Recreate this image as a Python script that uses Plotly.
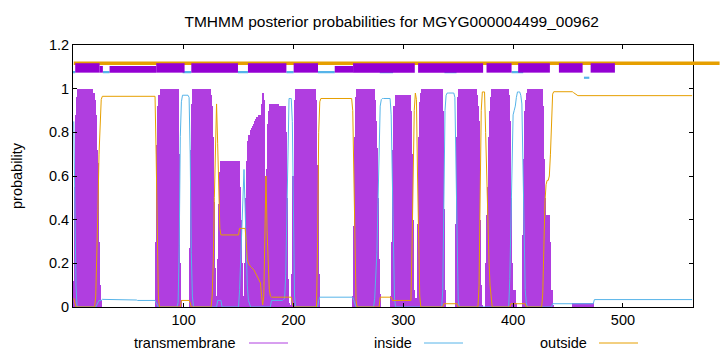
import plotly.graph_objects as go

title_text = "TMHMM posterior probabilities for MGYG000004499_00962"

# ---- posterior probabilities, run-length encoded (value, run length), residue 0..563 ----
tm_val = [0.12, 0.55, 0.88, 0.96, 1.0, 0.98, 0.95, 0.88, 0.72, 0.66, 0.3, 0.1, 0.03, 0,
          0.3, 0.74, 0.92, 0.97, 1.0, 0.7, 0.2, 0.03, 0,
          0.27, 0.72, 0.93, 1.0, 0.97, 0.92, 0.78, 0.48, 0.18, 0.05, 0.22, 0.47, 0.62, 0.67,
          0.55, 0.4, 0.2, 0.05, 0.01, 0.2, 0.5, 0.67, 0.76, 0.79, 0.81, 0.82, 0.83, 0.84, 0.85, 0.86,
          0.87, 0.88, 0.93, 0.98, 0.95, 0.6, 0.4, 0.63, 0.84, 0.9, 0.93, 0.92, 0.8, 0.5, 0.13, 0.02, 0.01,
          0.15, 0.6, 0.95, 1.0, 0.95, 0.65, 0.15, 0,
          0.05, 0.37, 0.78, 0.96, 1.0, 0.95, 0.85, 0.73, 0.5, 0.22, 0.06, 0,
          0.05, 0.3, 0.72, 0.92, 0.97, 0.9, 0.7, 0.4, 0.08, 0.01,
          0.04, 0.38, 0.78, 0.94, 0.98, 1.0, 0.9, 0.45, 0.08, 0,
          0.38, 0.78, 0.96, 1.0, 0.97, 0.92, 0.85, 0.4, 0.1, 0.01, 0,
          0.2, 0.42, 0.55, 0.78, 0.9, 0.96, 1.0, 0.97, 0.85, 0.5, 0.2, 0.08, 0.02, 0,
          0.33, 0.68, 0.9, 0.95, 0.98, 1.0, 0.92, 0.68, 0.5, 0.42, 0.3, 0.08, 0.01, 0, 0.018, 0]
tm_len = [1, 1, 1, 1, 14, 1, 1, 1, 1, 1, 1, 1, 1, 49,
          1, 1, 1, 1, 17, 1, 1, 1, 7,
          1, 1, 1, 16, 1, 1, 1, 1, 1, 1, 1, 1, 1, 17,
          1, 1, 1, 1, 1, 1, 1, 1, 1, 1, 1, 1, 1, 1, 1, 1,
          2, 2, 1, 1, 1, 1, 1, 1, 1, 1, 8, 6, 1, 1, 1, 1, 2,
          1, 1, 1, 19, 1, 1, 1, 30,
          1, 1, 1, 1, 16, 1, 1, 1, 1, 1, 1, 9,
          1, 1, 1, 1, 14, 1, 1, 1, 1, 1,
          1, 1, 1, 1, 1, 19, 1, 1, 1, 9,
          1, 1, 1, 16, 1, 1, 1, 1, 1, 1, 2,
          1, 1, 1, 1, 1, 1, 15, 1, 1, 1, 1, 3, 1, 5,
          1, 1, 1, 1, 1, 13, 1, 1, 1, 4, 1, 1, 1, 18, 19, 90]

in_val = [0.85, 0.4, 0.1, 0, 0.01, 0.02, 0.03, 0.035, 0.032, 0.03, 0.02, 0.005, 0,
          0.02, 0.28, 0.78, 0.94, 0.97, 0.96, 0.7, 0.25, 0.05, 0, 0.03, 0,
          0.08, 0.22, 0.42, 0.58, 0.63, 0.45, 0.2, 0.1, 0.03, 0.01, 0,
          0.03, 0.035, 0.04, 0.15, 0.45, 0.83, 0.955, 0.85, 0.4, 0.05, 0,
          0.03, 0.045, 0.03, 0.01, 0,
          0.04, 0.13, 0.25, 0.48, 0.76, 0.92, 0.95, 0.955, 0.88, 0.6, 0.22, 0.04, 0,
          0.08, 0.5, 0.9, 0.97, 0.98, 0.96, 0.6, 0.2, 0.03, 0,
          0.13, 0.45, 0.75, 0.88, 0.9, 0.92, 0.96, 0.985, 0.97, 0.93, 0.65, 0.3, 0.08, 0.02, 0,
          0.015, 0.034]
in_len = [1, 1, 1, 18, 1, 1, 3, 15, 17, 17, 1, 1, 18,
          1, 1, 1, 1, 6, 1, 1, 1, 1, 22, 4, 16,
          1, 1, 1, 1, 1, 1, 1, 1, 1, 1, 19,
          11, 1, 1, 1, 1, 1, 3, 1, 1, 1, 21,
          1, 31, 1, 1, 17,
          1, 1, 1, 1, 1, 1, 1, 8, 1, 1, 1, 1, 43,
          1, 1, 1, 1, 7, 1, 1, 1, 1, 46,
          1, 1, 1, 1, 1, 1, 1, 3, 1, 1, 1, 1, 1, 1, 23,
          38, 90]

out_val = [0.04, 0.02, 0, 0.05, 0.2, 0.45, 0.7, 0.87, 0.95, 0.965, 0.7, 0.25, 0.05, 0, 0.03, 0.02, 0,
           0.05, 0.2, 0.5, 0.8, 0.93, 0.75, 0.5, 0.36, 0.33, 0.36,
           0.3, 0.22, 0.2, 0.19, 0.185, 0.18, 0.175, 0.17, 0.16, 0.15, 0.14, 0.13, 0.12, 0.11,
           0.05, 0.01, 0.05, 0.4, 0.6, 0.35, 0.15, 0.08, 0.05, 0.045, 0.02, 0,
           0.3, 0.8, 0.94, 0.955, 0.9, 0.6, 0.2, 0.03, 0, 0.045, 0.03,
           0.28, 0.58, 0.9, 0.98, 0.95, 0.6, 0.2, 0.05, 0, 0.015, 0,
           0.1, 0.6, 0.9, 0.985, 0.8, 0.58, 0.45, 0.22, 0.1, 0.04, 0, 0.015, 0,
           0.06, 0.3, 0.48, 0.56, 0.58, 0.6, 0.7, 0.9, 0.975, 0.986, 0.982, 0.978, 0.974, 0.97, 0.968]
out_len = [1, 1, 18, 1, 1, 1, 1, 1, 1, 49, 1, 1, 1, 20, 8, 1, 19,
           1, 1, 1, 1, 1, 1, 1, 1, 17, 6,
           1, 1, 1, 1, 1, 1, 1, 1, 1, 1, 1, 1, 1, 1,
           1, 1, 1, 1, 1, 1, 1, 1, 1, 19, 1, 22,
           1, 1, 1, 29, 1, 1, 1, 1, 21, 11, 18,
           1, 1, 1, 1, 1, 1, 1, 1, 21, 13, 19,
           1, 1, 1, 3, 1, 1, 1, 1, 1, 1, 17, 14, 15,
           1, 1, 1, 1, 2, 1, 1, 1, 1, 18, 1, 1, 1, 1, 105]

# ---- predicted topology band (residue start / end) ----
topo_out_start = [0]
topo_out_end = [588]
topo_in_start = [-0.7, 26.5, 99.1, 149.5, 193.6, 222.4, 278.6, 337.5, 398.6]
topo_in_end = [1.3, 32.6, 107, 158.6, 200.2, 237.6, 290.7, 348.5, 409.2]
topo_in2_start = [464.5]
topo_in2_end = [469.4]
topo_tm_start = [1.3, 75.1, 107, 158.6, 200.2, 254.3, 313.5, 375.8, 404.6, 441.7, 470.6]
topo_tm_end = [23.5, 100.9, 149.5, 193.6, 222.4, 310.5, 372.7, 398.6, 433.5, 463.3, 492.7]
topo_tmlow_start = [23.5, 32.6, 237.6]
topo_tmlow_end = [26.5, 75.1, 254.3]

x_ticks = [100, 200, 300, 400, 500]
legend_names = ["transmembrane", "inside", "outside"]


def expand(vals, lens):
    out = []
    for v, n in zip(vals, lens):
        out.extend([v] * n)
    return out


tm = expand(tm_val, tm_len)
inside = expand(in_val, in_len)
outside = expand(out_val, out_len)

PURPLE_BAR = "#b03ee0"
PURPLE = "#9400d3"
BLUE = "#56b4e9"
ORANGE = "#e69f00"
XR = [-0.7, 563.8]

fig = go.Figure()
fig.add_trace(go.Bar(x=list(range(len(tm))), y=tm, width=0.94,
                     marker=dict(color=PURPLE_BAR, line=dict(width=0)), name=legend_names[0]))
fig.add_trace(go.Scatter(x=list(range(len(inside))), y=inside, mode="lines",
                         line=dict(color=BLUE, width=1), name=legend_names[1]))
fig.add_trace(go.Scatter(x=list(range(len(outside))), y=outside, mode="lines",
                         line=dict(color=ORANGE, width=1), name=legend_names[2]))

shapes = []
span = XR[1] - XR[0]
for s, e in zip(topo_out_start, topo_out_end):
    shapes.append(dict(type="rect", xref="paper", yref="y",
                       x0=(s - XR[0]) / span, x1=(e - XR[0]) / span,
                       y0=1.1087, y1=1.1239, fillcolor=ORANGE, line=dict(width=0), layer="above"))
for s, e in zip(topo_in_start, topo_in_end):
    shapes.append(dict(type="rect", xref="x", yref="y", x0=s, x1=e, y0=1.0706, y1=1.081,
                       fillcolor=BLUE, line=dict(width=0), layer="above"))
for s, e in zip(topo_in2_start, topo_in2_end):
    shapes.append(dict(type="rect", xref="x", yref="y", x0=s, x1=e, y0=1.045, y1=1.055,
                       fillcolor=BLUE, line=dict(width=0), layer="above"))
for s, e in zip(topo_tmlow_start, topo_tmlow_end):
    shapes.append(dict(type="rect", xref="x", yref="y", x0=s, x1=e, y0=1.0734, y1=1.104,
                       fillcolor=PURPLE, line=dict(width=0), layer="above"))
for s, e in zip(topo_tm_start, topo_tm_end):
    shapes.append(dict(type="rect", xref="x", yref="y", x0=s, x1=e, y0=1.0734, y1=1.1165,
                       fillcolor=PURPLE, line=dict(width=0), layer="above"))

# legend (gnuplot style: text, then sample line)
W, L = 620.0, 73.0
H, T = 262.0, 45.0
ly = (T + H - 343.0) / H
legend_text_right = [238, 414, 589]
legend_line = [(249, 288), (424, 463), (599, 638)]
legend_cols = [PURPLE_BAR, BLUE, ORANGE]
annotations = []
for name, xr, (a, b), c in zip(legend_names, legend_text_right, legend_line, legend_cols):
    annotations.append(dict(text=name, xref="paper", yref="paper", x=(xr - L) / W, y=ly,
                            xanchor="right", yanchor="middle", showarrow=False,
                            font=dict(size=14.5)))
    shapes.append(dict(type="line", xref="paper", yref="paper", x0=(a - L) / W, x1=(b - L) / W,
                       y0=ly, y1=ly, line=dict(color=c, width=1)))
annotations.append(dict(text="probability", xref="paper", yref="paper", x=(17 - L) / W, y=0.5,
                        textangle=-90, xanchor="center", yanchor="middle", showarrow=False,
                        font=dict(size=14.5)))

fig.update_layout(
    width=720, height=352,
    margin=dict(l=73, r=27, t=45, b=45),
    plot_bgcolor="white", paper_bgcolor="white",
    showlegend=False, bargap=0,
    font=dict(family="Liberation Sans, Arial, sans-serif", size=14.5, color="black"),
    title=dict(text=title_text, x=391.7 / 720, xref="container", xanchor="center",
               y=1 - 21.5 / 352, yref="container", yanchor="middle", font=dict(size=15.5)),
    shapes=shapes, annotations=annotations,
    xaxis=dict(range=XR, tickvals=x_ticks, ticks="inside", ticklen=4, tickcolor="black",
               showline=True, linecolor="black", linewidth=1, mirror="ticks",
               showgrid=False, zeroline=False),
    yaxis=dict(range=[0, 1.2], tick0=0, dtick=0.2, ticks="inside", ticklen=4, tickcolor="black",
               showline=True, linecolor="black", linewidth=1, mirror="ticks",
               showgrid=False, zeroline=False),
)

fig.write_html("out.html")
